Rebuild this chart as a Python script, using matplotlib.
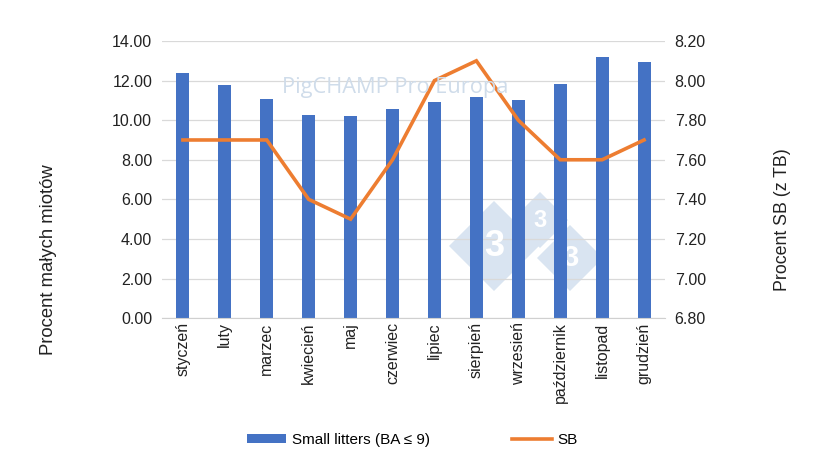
import matplotlib
matplotlib.use("Agg")
import matplotlib.pyplot as plt
from matplotlib.patches import Polygon
from matplotlib.transforms import IdentityTransform

plt.rcParams['font.family'] = ['Liberation Sans', 'DejaVu Sans']

months = ["styczeń", "luty", "marzec", "kwiecień", "maj", "czerwiec", "lipiec",
          "sierpień", "wrzesień", "październik", "listopad", "grudzień"]
small_litters = [12.4, 11.8, 11.05, 10.25, 10.2, 10.55, 10.9, 11.15, 11.0, 11.85, 13.2, 12.95]
sb = [7.7, 7.7, 7.7, 7.4, 7.3, 7.6, 8.0, 8.1, 7.8, 7.6, 7.6, 7.7]
left_ticks = [0, 2, 4, 6, 8, 10, 12, 14]
right_ticks = [6.8, 7.0, 7.2, 7.4, 7.6, 7.8, 8.0, 8.2]

BLUE = "#4472C4"
ORANGE = "#ED7D31"

fig = plt.figure(figsize=(8.2, 4.61), dpi=100)
ax = fig.add_axes([0.1975, 0.310, 0.6135, 0.601])
ax2 = ax.twinx()

x = list(range(len(months)))

# watermark logo (behind bars)
H = 461
def diamond(cx, cy, r):
    cy = H - cy
    return Polygon([(cx - r, cy), (cx, cy + r), (cx + r, cy), (cx, cy - r)],
                   closed=True, transform=IdentityTransform(), facecolor="#d9e4f1",
                   edgecolor="none", zorder=0.5)
for (cx, cy, r, fs) in [(494, 246, 45, 26), (540, 220, 28, 17), (570, 258, 33, 21)]:
    ax.add_patch(diamond(cx, cy, r))
    ax.text(cx, H - cy, "3", transform=IdentityTransform(), color="white",
            fontsize=fs, fontweight="bold", ha="center", va="center", zorder=0.6)

ax.bar(x, small_litters, width=0.31, color=BLUE, zorder=2, label="Small litters (BA \u2264 9)")
ax.set_ylim(0, 14)
ax.set_yticks(left_ticks)
ax.set_yticklabels([f"{v:.2f}" for v in left_ticks])
ax.set_xlim(-0.5, len(months) - 0.5)
ax.set_xticks(x)
ax.set_xticklabels(months, rotation=90)
ax.grid(axis="y", color="#d9d9d9", linewidth=0.9, zorder=0)
ax.set_axisbelow(True)

ln, = ax2.plot(x, sb, color=ORANGE, linewidth=2.6, label="SB", zorder=3, solid_joinstyle="miter")
ax2.set_ylim(6.8, 8.2)
ax2.set_yticks(right_ticks)
ax2.set_yticklabels([f"{v:.2f}" for v in right_ticks])

for a in (ax, ax2):
    for s in a.spines.values():
        s.set_visible(False)
    a.tick_params(axis="both", length=0, labelsize=11.5, colors="#222222")
ax.spines["bottom"].set_visible(True)
ax.spines["bottom"].set_color("#d0d0d0")
ax.tick_params(axis="y", pad=7)
ax2.tick_params(axis="y", pad=7)
ax.tick_params(axis="x", pad=3)

fig.text(49 / 820, 1 - 260 / 461, "Procent małych miotów", rotation=90,
         ha="center", va="center", fontsize=13.3, color="#222222")
fig.text(783 / 820, 1 - 220 / 461, "Procent SB (z TB)", rotation=90,
         ha="center", va="center", fontsize=12.8, color="#222222")

fig.text(395 / 820, 1 - 88 / 461, "PigCHAMP Pro Europa", ha="center", va="center",
         fontsize=15.7, color="#cfdcea", family=["Open Sans", "DejaVu Sans"], zorder=1)

handles = [ax.containers[0], ln]
leg = fig.legend(handles, ["Small litters (BA \u2264 9)", "SB"], loc="center",
                 bbox_to_anchor=(412 / 820, 1 - 440 / 461), ncol=2, frameon=False,
                 fontsize=11, columnspacing=5.4, handlelength=2.6, handleheight=0.6,
                 handletextpad=0.35)

fig.savefig("out.png", dpi=100)
